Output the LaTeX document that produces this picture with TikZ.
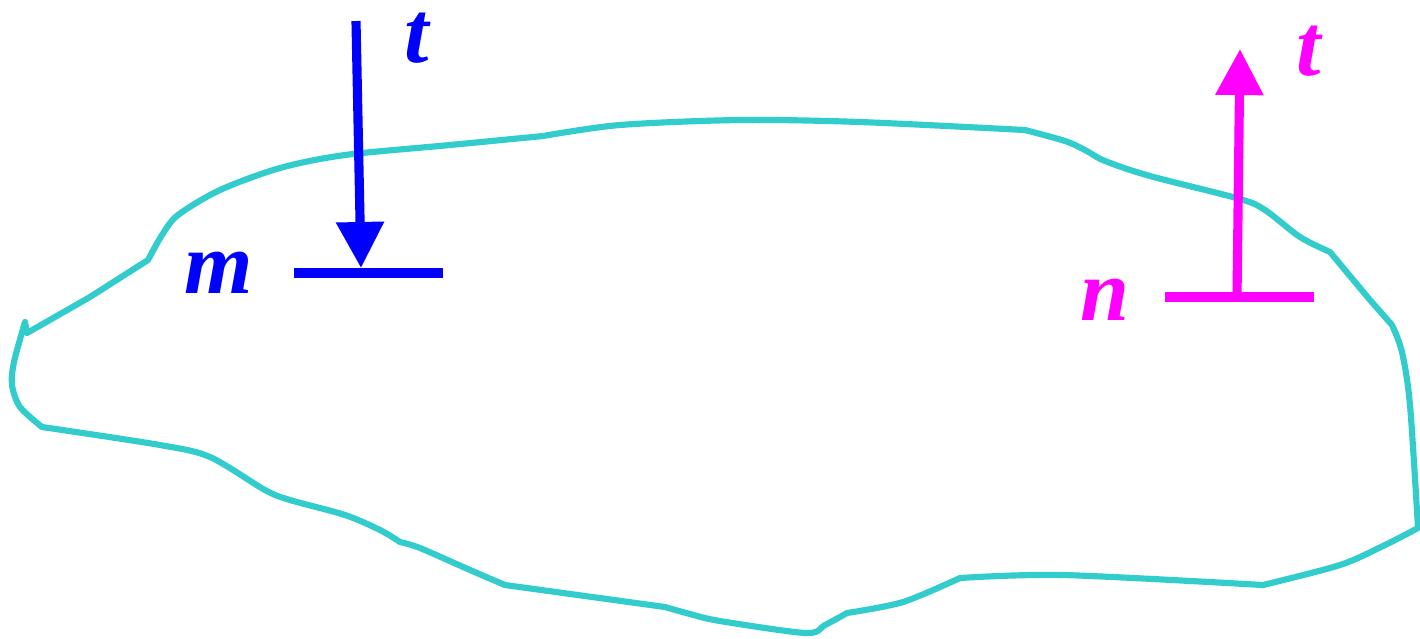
\documentclass[tikz,border=0pt]{standalone}
\usepackage{fontspec}
\setmainfont{Liberation Serif}
\usetikzlibrary{arrows.meta}
\definecolor{outl}{RGB}{51,204,204}
\definecolor{pblue}{RGB}{0,0,255}
\definecolor{pmag}{RGB}{255,0,255}
\tikzset{
  outline/.style={draw=outl, line width=1.75pt, line join=round, line cap=round},
  shaft/.style={line width=2.6pt, -{Triangle[length=0.46cm,width=0.46cm]}},
  bar/.style={line width=2.9pt},
  lbl/.style={inner sep=0pt, anchor=base west, text height=0.62em, text depth=0.05em, font=\fontsize{25}{30}\selectfont\bfseries\itshape}
}
\begin{document}
\begin{tikzpicture}[x=0.01cm,y=-0.01cm]
\useasboundingbox (0,0) rectangle (1420,638);
% outline
\draw[outline]
  plot coordinates {(27,333) (90,297) (148,260)}
  -- plot[smooth,tension=0.5] coordinates {(148,260) (162,235) (178,215) (220,190) (280,168) (345,155) (450,145) (543,136)}
  -- plot[smooth,tension=0.5] coordinates {(543,136) (620,125) (740,120) (860,122) (1025,130)}
  -- plot[smooth,tension=0.5] coordinates {(1025,130) (1065,141) (1085,150) (1105,161) (1150,176) (1240,199) (1265,210) (1300,237) (1330,252)}
  -- (1370,300) -- (1392,325)
  -- plot[smooth,tension=0.5] coordinates {(1392,325) (1402,352) (1410,405) (1418,528)}
  -- plot[smooth,tension=0.5] coordinates {(1418,528) (1385,545) (1340,565) (1263,585)}
  -- plot[smooth,tension=0.5] coordinates {(1263,585) (1063,575) (960,578)}
  -- plot[smooth,tension=0.5] coordinates {(960,578) (903,602) (847,613)}
  -- plot[smooth,tension=0.5] coordinates {(847,613) (825,625) (806,633) (720,621) (690,614) (665,607)}
  -- (505,585)
  -- plot[smooth,tension=0.5] coordinates {(505,585) (470,570) (420,548) (400,542)}
  -- plot[smooth,tension=0.5] coordinates {(400,542) (380,530) (345,515) (290,500) (265,490) (210,457) (160,445) (42,427)}
  -- plot[smooth,tension=0.5] coordinates {(42,427) (20,407) (12,385) (14,362) (25,322)}
  -- (27,333);
% blue arrow
\coordinate (btop) at (356,21);
\coordinate (btip) at (361,268);
\coordinate (bl) at (294,273);
\coordinate (br) at (443,273);
\draw[pblue, bar] (bl) -- (br);
\draw[pblue, shaft] (btop) -- (btip);
\node[lbl, text=pblue] (tb) at (404,62) {t};
\node[lbl, text=pblue] (m) at (184,293) {m};
% magenta arrow
\coordinate (mbot) at (1237,297);
\coordinate (mtip) at (1240,49);
\coordinate (ml) at (1165,297);
\coordinate (mr) at (1314,297);
\draw[pmag, bar] (ml) -- (mr);
\draw[pmag, shaft] (mbot) -- (mtip);
\node[lbl, text=pmag] (tm) at (1296,75) {t};
\node[lbl, text=pmag] (n) at (1080,320) {n};
\end{tikzpicture}
\end{document}
